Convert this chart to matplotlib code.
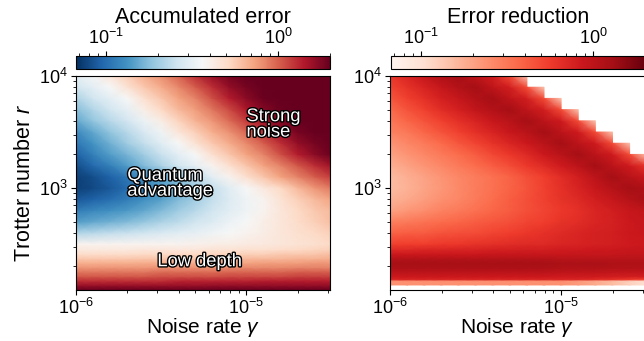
import numpy as np
import matplotlib
matplotlib.use("Agg")
import matplotlib.pyplot as plt
import matplotlib.patheffects as pe
from matplotlib.colors import LogNorm

plt.rcParams["font.family"] = ["Liberation Sans", "DejaVu Sans"]
plt.rcParams["mathtext.fontset"] = "custom"
plt.rcParams["mathtext.rm"] = "Liberation Sans"
plt.rcParams["mathtext.it"] = "Liberation Sans:italic"

nan = np.nan

# ── grid: log10(noise rate) columns, log10(Trotter number) rows (bottom -> top) ──
GAMMA_EXP = [-6.0, -5.9, -5.8, -5.7, -5.6, -5.5, -5.4, -5.3,
             -5.2, -5.1, -5.0, -4.9, -4.8, -4.7, -4.6, -4.5]
R_EXP_ACC = [2.09, 2.13, 2.17, 2.21, 2.25, 2.29, 2.33, 2.37, 2.41, 2.45, 2.5,
             2.6, 2.7, 2.8, 2.9, 3.0, 3.1, 3.2, 3.3, 3.4, 3.5, 3.6, 3.7, 3.8, 3.9, 4.0]
R_EXP_RED = [2.09, 2.125, 2.135, 2.17, 2.185, 2.21, 2.25, 2.29, 2.33, 2.37, 2.41, 2.45, 2.5,
             2.6, 2.7, 2.8, 2.9, 3.0, 3.1, 3.2, 3.3, 3.4, 3.5, 3.6, 3.7, 3.8, 3.9, 4.0]

# log10(accumulated error)
ACC_ERR_LOG = [
    [0.31] * 16,
    [0.20] * 8 + [0.21] * 8,
    [0.11] * 6 + [0.13] * 5 + [0.14] * 5,
    [0.02] * 5 + [0.04] * 4 + [0.05] * 4 + [0.07] * 3,
    [-0.04] * 5 + [-0.02] * 4 + [-0.01] * 4 + [0.01] * 3,
    [-0.11] * 5 + [-0.10] * 4 + [-0.08] * 4 + [-0.07] * 3,
    [-0.17] * 4 + [-0.16] * 4 + [-0.14] * 3 + [-0.13] * 3 + [-0.11] * 2,
    [-0.24, -0.24, -0.24, -0.24, -0.23, -0.23, -0.23, -0.23, -0.21, -0.21, -0.20, -0.20, -0.20, -0.18, -0.18, -0.17],
    [-0.30, -0.30, -0.30, -0.30, -0.29, -0.29, -0.29, -0.29, -0.27, -0.27, -0.26, -0.26, -0.24, -0.24, -0.23, -0.21],
    [-0.36, -0.36, -0.36, -0.36, -0.35, -0.35, -0.35, -0.35, -0.33, -0.33, -0.32, -0.32, -0.30, -0.29, -0.27, -0.26],
    [-0.41, -0.41, -0.41, -0.41, -0.41, -0.41, -0.41, -0.40, -0.39, -0.38, -0.37, -0.36, -0.35, -0.33, -0.32, -0.29],
    [-0.66, -0.64, -0.62, -0.60, -0.58, -0.55, -0.52, -0.50, -0.47, -0.44, -0.41, -0.38, -0.35, -0.32, -0.29, -0.26],
    [-0.85, -0.82, -0.79, -0.76, -0.72, -0.67, -0.63, -0.58, -0.54, -0.48, -0.44, -0.39, -0.35, -0.30, -0.26, -0.21],
    [-0.95, -0.92, -0.89, -0.86, -0.82, -0.76, -0.70, -0.64, -0.58, -0.52, -0.47, -0.41, -0.35, -0.29, -0.24, -0.20],
    [-1.06, -1.03, -1.00, -0.95, -0.89, -0.84, -0.76, -0.69, -0.61, -0.54, -0.47, -0.41, -0.33, -0.26, -0.20, -0.14],
    [-1.13, -1.10, -1.06, -1.00, -0.94, -0.86, -0.79, -0.70, -0.61, -0.52, -0.44, -0.36, -0.29, -0.20, -0.11, -0.05],
    [-1.13, -1.09, -1.03, -0.97, -0.89, -0.82, -0.73, -0.63, -0.51, -0.41, -0.32, -0.23, -0.14, -0.07, 0.01, 0.08],
    [-1.09, -1.01, -0.94, -0.85, -0.76, -0.67, -0.58, -0.50, -0.41, -0.32, -0.23, -0.14, -0.07, 0.02, 0.11, 0.19],
    [-1.03, -0.94, -0.85, -0.78, -0.69, -0.60, -0.51, -0.44, -0.32, -0.23, -0.14, -0.07, 0.04, 0.14, 0.23, 0.29],
    [-0.97, -0.88, -0.79, -0.70, -0.61, -0.52, -0.44, -0.33, -0.24, -0.16, -0.08, 0.01, 0.11, 0.21, 0.27, 0.31],
    [-0.91, -0.82, -0.73, -0.64, -0.55, -0.47, -0.35, -0.26, -0.17, -0.10, -0.01, 0.10, 0.20, 0.27, 0.31, 0.34],
    [-0.82, -0.73, -0.64, -0.57, -0.48, -0.38, -0.27, -0.18, -0.11, -0.02, 0.08, 0.19, 0.26, 0.31, 0.34, 0.37],
    [-0.75, -0.66, -0.58, -0.50, -0.39, -0.29, -0.20, -0.13, -0.04, 0.05, 0.16, 0.24, 0.29, 0.32, 0.36, 0.39],
    [-0.67, -0.58, -0.51, -0.44, -0.32, -0.23, -0.14, -0.07, 0.04, 0.14, 0.23, 0.29, 0.33, 0.37, 0.40, 0.43],
    [-0.58, -0.51, -0.44, -0.33, -0.24, -0.16, -0.08, 0.01, 0.11, 0.21, 0.27, 0.33, 0.37, 0.40, 0.43, 0.45],
    [-0.51, -0.45, -0.35, -0.26, -0.17, -0.10, -0.01, 0.10, 0.20, 0.27, 0.34, 0.38, 0.41, 0.44, 0.46, 0.48],
]

# log10(error reduction); nan = not defined
RED_LOG = [
    [nan] * 16,
    [nan] * 16,
    [-0.61] * 11 + [-0.66, -0.73, -0.81, -0.91, -1.00],
    [-0.61] * 11 + [-0.66, -0.73, -0.81, -0.91, -1.00],
    [-0.14] * 12 + [-0.17, -0.20, -0.24, -0.29],
    [-0.07] * 10 + [-0.08] * 3 + [-0.10] * 3,
    [0.01] * 10 + [-0.01] * 3 + [-0.02] * 3,
    [0.08] * 10 + [0.06] * 3 + [0.05] * 3,
    [0.10] * 10 + [0.08] * 3 + [0.07] * 3,
    [0.04] * 10 + [0.02] * 6,
    [-0.07] * 6 + [-0.05] * 5 + [-0.04] * 3 + [-0.02] * 2,
    [-0.16, -0.16, -0.14, -0.14, -0.13, -0.13, -0.11, -0.11, -0.10, -0.10, -0.08, -0.08, -0.07, -0.07, -0.05, -0.05],
    [-0.27, -0.26, -0.26, -0.24, -0.23, -0.21, -0.20, -0.18, -0.17, -0.16, -0.14, -0.13, -0.11, -0.10, -0.08, -0.07],
    [-0.41, -0.39, -0.38, -0.35, -0.33, -0.32, -0.29, -0.26, -0.23, -0.20, -0.17, -0.14, -0.11, -0.10, -0.07, -0.05],
    [-0.54, -0.51, -0.48, -0.45, -0.42, -0.39, -0.36, -0.33, -0.29, -0.26, -0.21, -0.18, -0.14, -0.11, -0.07, -0.04],
    [-0.69, -0.64, -0.60, -0.55, -0.51, -0.47, -0.42, -0.38, -0.33, -0.29, -0.24, -0.20, -0.14, -0.10, -0.05, -0.01],
    [-0.76, -0.72, -0.67, -0.61, -0.57, -0.51, -0.45, -0.39, -0.33, -0.27, -0.21, -0.16, -0.10, -0.04, 0.04, 0.10],
    [-0.81, -0.76, -0.70, -0.64, -0.58, -0.52, -0.47, -0.41, -0.35, -0.27, -0.20, -0.13, -0.05, 0.04, 0.11, 0.07],
    [-0.81, -0.75, -0.69, -0.63, -0.57, -0.52, -0.47, -0.41, -0.33, -0.26, -0.18, -0.10, 0.01, 0.11, 0.02, -0.05],
    [-0.75, -0.69, -0.63, -0.57, -0.51, -0.45, -0.39, -0.32, -0.24, -0.17, -0.08, 0.01, 0.11, 0.01, -0.08, -0.21],
    [-0.69, -0.63, -0.57, -0.51, -0.45, -0.38, -0.30, -0.23, -0.16, -0.07, 0.02, 0.11, 0.01, -0.08, -0.32, -0.88],
    [-0.63, -0.57, -0.51, -0.44, -0.36, -0.29, -0.21, -0.14, -0.07, 0.02, 0.11, 0.01, -0.08, -0.32, -0.88, nan],
    [-0.55, -0.50, -0.42, -0.35, -0.27, -0.20, -0.13, -0.05, 0.02, 0.11, 0.01, -0.08, -0.32, -0.88, nan, nan],
    [-0.50, -0.42, -0.35, -0.27, -0.20, -0.13, -0.05, 0.02, 0.11, 0.01, -0.08, -0.32, -0.88] + [nan] * 3,
    [-0.44, -0.35, -0.27, -0.18, -0.11, -0.02, 0.05, 0.11, -0.01, -0.10, -0.32, -0.88] + [nan] * 4,
    [-0.36, -0.27, -0.20, -0.11, -0.04, 0.05, 0.11, -0.01, -0.10, -0.32, -0.88] + [nan] * 5,
    [-0.29, -0.21, -0.13, -0.04, 0.05, 0.11, -0.01, -0.10, -0.32, -0.88] + [nan] * 6,
    [-0.23, -0.14, -0.04, 0.07, 0.11, -0.01, -0.10, -0.32, -0.88] + [nan] * 7,
]

CBAR_RANGE = (0.067, 2.0)
LABELS = [("Strong\nnoise", 1.0e-5, 3.7e3),
          ("Quantum\nadvantage", 2.0e-6, 1.1e3),
          ("Low depth", 3.0e-6, 2.2e2)]

FS_TICK = 13
FS_LABEL = 15.5
FS_XLABEL = 15
FS_NOTE = 13.2


def _style(ax):
    ax.set_xscale("log")
    ax.set_yscale("log")
    ax.set_xlim(10 ** GAMMA_EXP[0], 10 ** -4.51)
    ax.set_ylim(10 ** R_EXP_ACC[0], 10 ** R_EXP_ACC[-1])
    ax.tick_params(which="major", length=3.5, width=0.8, labelsize=FS_TICK, pad=2.5)
    ax.tick_params(axis="x", which="major", pad=2)
    ax.tick_params(which="minor", length=2, width=0.6)
    ax.set_xlabel(r"Noise rate $\gamma$", fontsize=FS_XLABEL, labelpad=-1.5)


def _cbar(fig, mappable, cax, label):
    cb = fig.colorbar(mappable, cax=cax, orientation="horizontal")
    cax.xaxis.set_ticks_position("top")
    cax.xaxis.set_label_position("top")
    cax.tick_params(which="major", length=3.5, width=0.8, labelsize=FS_TICK, pad=2.5)
    cax.tick_params(which="minor", length=2, width=0.6)
    cb.set_label(label, fontsize=FS_LABEL, labelpad=3.5)
    cb.outline.set_linewidth(0.8)
    return cb


def _mesh(r_exp, log_vals):
    gg, rr = np.meshgrid(10.0 ** np.array(GAMMA_EXP), 10.0 ** np.array(r_exp))
    return gg, rr, 10.0 ** np.array(log_vals)


fig = plt.figure(figsize=(6.44, 3.41), dpi=100)
W, H = 644, 341
ax1 = fig.add_axes([76 / W, 51 / H, 254 / W, 214 / H])
ax2 = fig.add_axes([390 / W, 51 / H, 255 / W, 214 / H])
cax1 = fig.add_axes([76 / W, 272 / H, 254 / W, 13 / H])
cax2 = fig.add_axes([391 / W, 272 / H, 254 / W, 13 / H])

cmap_red = plt.get_cmap("Reds").with_extremes(bad="white")

m1 = ax1.pcolormesh(*_mesh(R_EXP_ACC, ACC_ERR_LOG), shading="gouraud",
                    cmap="RdBu_r", norm=LogNorm(*CBAR_RANGE), rasterized=True)
m2 = ax2.pcolormesh(*_mesh(R_EXP_RED, RED_LOG), shading="gouraud",
                    cmap=cmap_red, norm=LogNorm(*CBAR_RANGE), rasterized=True)

for ax in (ax1, ax2):
    _style(ax)
ax1.set_ylabel(r"Trotter number $r$", fontsize=FS_LABEL, labelpad=3)

for text, x, y in LABELS:
    ax1.text(x, y, text, color="white", fontsize=FS_NOTE, ha="left", va="center",
             linespacing=0.88,
             path_effects=[pe.withStroke(linewidth=2.0, foreground="black")])

_cbar(fig, m1, cax1, "Accumulated error")
_cbar(fig, m2, cax2, "Error reduction")

fig.savefig("out.png", dpi=100)
